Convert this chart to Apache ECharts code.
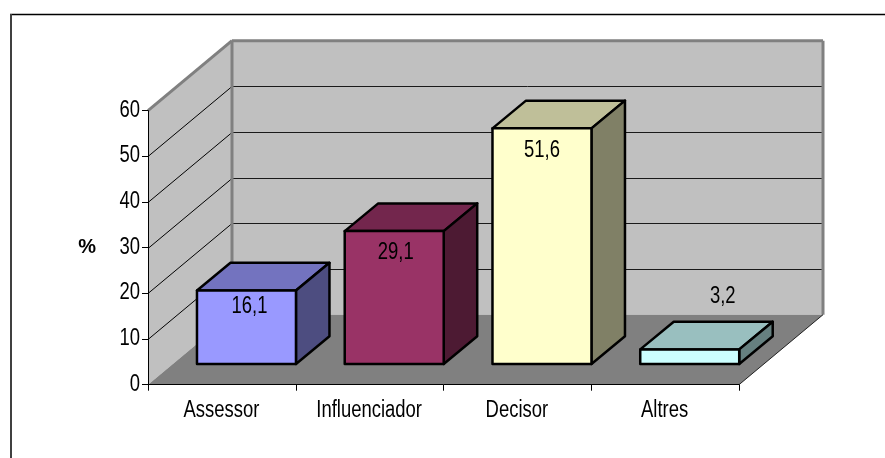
<!DOCTYPE html>
<html>
<head>
<meta charset="utf-8">
<style>html,body{margin:0;padding:0;background:#fff}#chart{width:885px;height:458px}</style>
<script src="https://cdn.jsdelivr.net/npm/echarts@6/dist/echarts.min.js"></script>
</head>
<body>
<div id="chart"></div>
<script>
// Percentages by role
const categories = ['Assessor', 'Influenciador', 'Decisor', 'Altres'];
const values = [16.1, 29.1, 51.6, 3.2];
const yTicks = [0, 10, 20, 30, 40, 50, 60];
const frontColors = ['#9999FF', '#993366', '#FFFFCC', '#CCFFFF'];
const topColors = ['#7373BF', '#73264D', '#BFBF99', '#99BFBF'];
const sideColors = ['#4D4D80', '#4D1A33', '#808066', '#668080'];

// Oblique projection of the box: floor depth and where the bars stand on it
const WALL_DX = 84, WALL_DY = 70;
const BAR_INSET_DX = 24.6, BAR_INSET_DY = 20.7;
const BAR_DX = 33.5, BAR_DY = 27.7;
const BAR_WIDTH_RATIO = 0.67;
// Hand-placed data labels, relative to the top-centre of each bar's front face
const labelNudge = [[3, 16.5], [1.5, 21], [0, 22], [33, -53]];

// All chart text is set in a horizontally condensed Arial-metric face
const FONT = '"Liberation Sans", Arial, sans-serif';
const TEXT_FONT = '23.5px ' + FONT;
const CONDENSE = 0.785;

const poly = (points, fill, stroke, lineWidth) => ({
  type: 'polygon',
  shape: { points },
  style: { fill, stroke: stroke || 'none', lineWidth: lineWidth || 0, lineJoin: 'round' }
});
const seg = (x1, y1, x2, y2, stroke, lineWidth) => ({
  type: 'line',
  shape: { x1, y1, x2, y2 },
  style: { stroke, lineWidth }
});
const condensedText = (text, x, y, align) => ({
  type: 'text',
  x, y,
  scaleX: CONDENSE,
  style: { text, font: TEXT_FONT, fill: '#000', align, verticalAlign: 'middle' }
});

function renderWalls(params, api) {
  const c = params.coordSys;
  const l = c.x, r = c.x + c.width, t = c.y, b = c.y + c.height;
  const dx = WALL_DX, dy = WALL_DY;
  const edge = '#808080';
  const kids = [
    poly([[l, t], [l + dx, t - dy], [l + dx, b - dy], [l, b]], '#C0C0C0'),
    poly([[l + dx, t - dy], [r + dx, t - dy], [r + dx, b - dy], [l + dx, b - dy]], '#C0C0C0'),
    poly([[l, b], [l + dx, b - dy], [r + dx, b - dy], [r, b]], '#808080')
  ];
  yTicks.slice(1, -1).forEach(function (tick) {
    const y = Math.round(api.coord([0, tick])[1]) + 0.5;
    kids.push(seg(l, y, l + dx, y - dy, '#000', 1));
    kids.push(seg(l + dx, y - dy, r + dx, y - dy, '#1a1a1a', 1));
  });
  kids.push(seg(l, t, l + dx, t - dy, edge, 3));
  kids.push(seg(l + dx, t - dy, r + dx, t - dy, edge, 3));
  kids.push(seg(l + dx, t - dy, l + dx, b - dy, edge, 3));
  kids.push(seg(r + dx, t - dy, r + dx, b - dy, edge, 3));
  kids.push(seg(r, b, r + dx, b - dy, '#222', 1));
  return { type: 'group', children: kids };
}

function renderBar(params, api) {
  const i = api.value(0), v = api.value(1);
  const base = api.coord([i, 0]);
  const bw = api.size([1, 0])[0] * BAR_WIDTH_RATIO;
  const x0 = base[0] - bw / 2 + BAR_INSET_DX, x1 = x0 + bw;
  const yb = base[1] - BAR_INSET_DY;
  const yt = api.coord([i, v])[1] - BAR_INSET_DY;
  const dx = BAR_DX, dy = BAR_DY;
  const nudge = labelNudge[i];
  return {
    type: 'group',
    children: [
      poly([[x0, yt], [x1, yt], [x1 + dx, yt - dy], [x0 + dx, yt - dy]], topColors[i], '#000', 2.5),
      poly([[x1, yt], [x1 + dx, yt - dy], [x1 + dx, yb - dy], [x1, yb]], sideColors[i], '#000', 2.5),
      poly([[x0, yt], [x1, yt], [x1, yb], [x0, yb]], frontColors[i], '#000', 2.5),
      condensedText(String(v).replace('.', ','), (x0 + x1) / 2 + nudge[0], yt + nudge[1], 'center')
    ]
  };
}

// Axis tick text, condensed to fit the tall narrow lettering of the chart
function renderCategoryLabel(params, api) {
  const i = api.value(0);
  const p = api.coord([i, 0]);
  return condensedText(categories[i], p[0] - 0.5, p[1] + 26, 'center');
}
function renderValueLabel(params, api) {
  const tick = api.value(1);
  const y = api.coord([0, tick])[1];
  return condensedText(String(tick), params.coordSys.x - 8, y - 0.5, 'right');
}

const chart = echarts.init(document.getElementById('chart'), null, { renderer: 'canvas' });
chart.setOption({
  animation: false,
  backgroundColor: '#fff',
  tooltip: { show: false },
  grid: { left: 148, right: 146, top: 110.7, bottom: 73.3, containLabel: false },
  xAxis: {
    type: 'category',
    data: categories,
    z: 5,
    axisLine: { lineStyle: { color: '#000', width: 1 } },
    axisTick: { show: true, alignWithLabel: false, length: 6, lineStyle: { color: '#000' } },
    axisLabel: { show: false },
    splitLine: { show: false }
  },
  yAxis: {
    type: 'value',
    min: 0,
    max: 60,
    interval: 10,
    z: 5,
    name: '%',
    nameLocation: 'middle',
    nameRotate: 0,
    nameGap: 52,
    nameTextStyle: { color: '#000', fontSize: 20, fontWeight: 'bold', fontFamily: FONT, padding: [3, 0, 0, 0] },
    axisLine: { show: true, lineStyle: { color: '#000', width: 1 } },
    axisTick: { show: true, length: 6, lineStyle: { color: '#000' } },
    axisLabel: { show: false },
    splitLine: { show: false }
  },
  series: [
    { type: 'custom', coordinateSystem: 'cartesian2d', z: 1, silent: true, clip: false,
      data: [[0, 0]], renderItem: renderWalls },
    { type: 'custom', coordinateSystem: 'cartesian2d', z: 6, silent: true, clip: false,
      data: values.map((v, i) => [i, v]), renderItem: renderBar },
    { type: 'custom', coordinateSystem: 'cartesian2d', z: 6, silent: true, clip: false,
      data: categories.map((c, i) => [i, 0]), renderItem: renderCategoryLabel },
    { type: 'custom', coordinateSystem: 'cartesian2d', z: 6, silent: true, clip: false,
      data: yTicks.map(t => [0, t]), renderItem: renderValueLabel }
  ],
  graphic: [
    { type: 'line', z: 10, shape: { x1: 10, y1: 14.5, x2: 885, y2: 14.5 }, style: { stroke: '#000', lineWidth: 1.5 } },
    { type: 'line', z: 10, shape: { x1: 11, y1: 14, x2: 11, y2: 458 }, style: { stroke: '#404040', lineWidth: 2 } }
  ]
});
</script>
</body>
</html>
